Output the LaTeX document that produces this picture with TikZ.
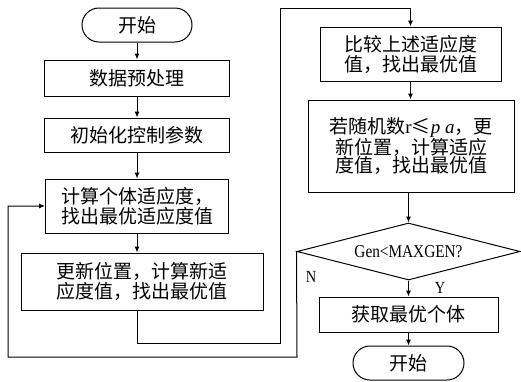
\documentclass[tikz,border=0pt]{standalone}
\usepackage{fontspec}
\setmainfont{Liberation Serif}
\newfontfamily\cjk{Noto Sans CJK SC}
\newfontfamily\condserif[FakeStretch=0.85]{Liberation Serif}
\usetikzlibrary{shapes.geometric,arrows.meta}
\begin{document}
\begin{tikzpicture}[x=1pt,y=-1pt,line width=1pt,
  cjkfont/.style={font=\cjk\fontsize{19}{20}\selectfont},
  box/.style={draw,rectangle,inner sep=0pt,align=center,cjkfont},
  term/.style={draw,rectangle,rounded corners=17pt,inner sep=0pt,minimum width=110pt,minimum height=34pt,cjkfont},
  lbl/.style={font=\condserif\fontsize{17}{17}\selectfont,inner sep=0pt},
  arr/.style={-{Latex[length=6pt,width=5pt]}}]
\useasboundingbox (0,0) rectangle (521,381);
% left column
\node[term] (start) at (137,25) {开始};
\node[box,minimum width=185pt,minimum height=36pt] (b1) at (137,78) {数据预处理};
\node[box,minimum width=185pt,minimum height=34pt] (b2) at (137,135) {初始化控制参数};
\node[box,minimum width=183pt,minimum height=54pt] (b3) at (137,206) {计算个体适应度，\\找出最优适应度值};
\node[box,minimum width=242pt,minimum height=57pt] (b4) at (142,281.5) {更新位置，计算新适\\应度值，找出最优值};
% right column
\node[box,minimum width=181pt,minimum height=54pt] (c1) at (410.5,54) {比较上述适应度\\值，找出最优值};
\node[box,minimum width=206pt,minimum height=92pt,font=\cjk\fontsize{19}{18.5}\selectfont] (c2) at (411,146) {若随机数{\rmfamily r}≤{\rmfamily\itshape p a}，更\\新位置，计算适应\\度值，找出最优值};
\node[draw,diamond,aspect=3.9,minimum width=223pt,minimum height=57pt,inner sep=0pt,font=\condserif\fontsize{18}{18}\selectfont] (d) at (408.5,251.5) {Gen<MAXGEN?};
\node[box,minimum width=179pt,minimum height=35pt] (e1) at (408.5,314.5) {获取最优个体};
\node[term,minimum width=111pt] (end) at (408.5,363) {开始};
\node[lbl] (n) at (311,277) {N};
\node[lbl] (y) at (440,288) {Y};
% coordinates
\coordinate (k1) at (137,343);
\coordinate (k2) at (280,343);
\coordinate (k3) at (280,8);
\coordinate (m1) at (297,357);
\coordinate (m2) at (8,357);
\coordinate (m3) at (8,206);
% connectors
\draw[arr] (start) -- (b1);
\draw[arr] (b1) -- (b2);
\draw[arr] (b2) -- (b3);
\draw[arr] (b3.south) -- (b3.south |- b4.north);
\draw[arr] (b3.south |- b4.south) -- (k1) -- (k2) -- (k3) -| (c1.north);
\draw[arr] (c1.south) -- (c1.south |- c2.north);
\draw[arr] (c2.south -| d.north) -- (d.north);
\draw[arr] (d.south) -- (e1.north);
\draw[arr] (e1) -- (end);
\draw[arr] (d.west) -- (m1) -- (m2) -- (m3) -- (b3.west);
\end{tikzpicture}
\end{document}
